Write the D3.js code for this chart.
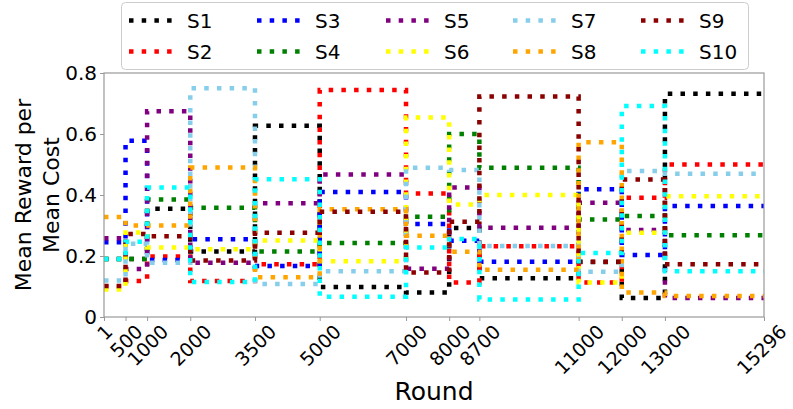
<!DOCTYPE html>
<html>
<head>
<meta charset="utf-8">
<script src="https://cdn.jsdelivr.net/npm/d3@7"></script>
<style>
  body { margin: 0; background: #fff; }
  svg { font-family: "DejaVu Sans", sans-serif; }
</style>
</head>
<body>
<div id="app"></div>
<script>
// Segment boundaries (rounds) and tick labels
const rounds = [1, 500, 1000, 2000, 3500, 5000, 7000, 8000, 8700, 11000, 12000, 13000, 15296];
const yTicks = [0, 0.2, 0.4, 0.6, 0.8];

// Mean reward per mean cost for each segment (12 segments)
const S1  = [0.19, 0.19, 0.355, 0.215, 0.627, 0.098, 0.08, 0.292, 0.127, 0.18, 0.062, 0.732];
const S2  = [0.10, 0.118, 0.198, 0.118, 0.173, 0.744, 0.405, 0.113, 0.232, 0.113, 0.391, 0.50];
const S3  = [0.245, 0.578, 0.187, 0.255, 0.167, 0.41, 0.305, 0.25, 0.181, 0.419, 0.203, 0.364];
const S4  = [0.19, 0.19, 0.385, 0.358, 0.215, 0.243, 0.329, 0.60, 0.489, 0.32, 0.331, 0.268];
const S5  = [0.258, 0.157, 0.675, 0.178, 0.373, 0.467, 0.158, 0.425, 0.293, 0.375, 0.285, 0.062];
const S6  = [0.09, 0.277, 0.228, 0.222, 0.251, 0.183, 0.654, 0.369, 0.40, 0.113, 0.276, 0.396];
const S7  = [0.12, 0.24, 0.178, 0.75, 0.108, 0.15, 0.489, 0.482, 0.233, 0.148, 0.479, 0.47];
const S8  = [0.328, 0.30, 0.30, 0.49, 0.13, 0.353, 0.266, 0.214, 0.155, 0.573, 0.08, 0.069];
const S9  = [0.102, 0.272, 0.265, 0.185, 0.276, 0.345, 0.146, 0.312, 0.723, 0.181, 0.451, 0.173];
const S10 = [0.19, 0.247, 0.425, 0.115, 0.452, 0.066, 0.228, 0.256, 0.057, 0.21, 0.692, 0.15];

const names  = ['S1', 'S2', 'S3', 'S4', 'S5', 'S6', 'S7', 'S8', 'S9', 'S10'];
const colors = ['black', 'red', 'blue', 'green', 'purple', 'yellow', 'skyblue', 'orange', 'darkred', 'cyan'];
const series = [S1, S2, S3, S4, S5, S6, S7, S8, S9, S10];

const W = 793, H = 409;
const margin = {top: 73, right: 29, bottom: 92, left: 104};
const width = W - margin.left - margin.right;
const height = H - margin.top - margin.bottom;

const svg = d3.select('#app').append('svg')
  .attr('width', W).attr('height', H);

const g = svg.append('g')
  .attr('transform', `translate(${margin.left},${margin.top})`);

const x = d3.scaleLinear().domain([1, 15296]).range([0, width]);
const y = d3.scaleLinear().domain([0, 0.8]).range([height, 0]);

// step lines: each value holds until the next boundary
const line = d3.line()
  .x(d => x(d[0]))
  .y(d => y(d[1]))
  .curve(d3.curveStepAfter);

series.forEach((vals, i) => {
  const pts = rounds.map((r, j) => [r, vals[Math.min(j, vals.length - 1)]]);
  g.append('path')
    .datum(pts)
    .attr('fill', 'none')
    .attr('stroke', colors[i])
    .attr('stroke-width', 4.5)
    .attr('stroke-dasharray', '4.5,8.2')
    .attr('d', line);
});

// frame
g.append('rect')
  .attr('width', width).attr('height', height)
  .attr('fill', 'none').attr('stroke', '#999').attr('stroke-width', 1.2);

// y axis
const yAxis = g.append('g')
  .call(d3.axisLeft(y).tickValues(yTicks).tickSize(4).tickFormat(d => d === 0 ? '0' : d3.format('.1f')(d)));
yAxis.select('.domain').remove();
yAxis.selectAll('line').attr('stroke', '#999');
yAxis.selectAll('text').attr('font-size', 20).attr('fill', '#000').attr('font-family', '"DejaVu Sans", sans-serif');

// x axis, labels rotated 45deg and centred under the tick
const fs = 19;
const xAxis = g.append('g')
  .attr('transform', `translate(0,${height})`)
  .call(d3.axisBottom(x).tickValues(rounds).tickSize(4).tickFormat(d => d));
xAxis.select('.domain').remove();
xAxis.selectAll('line').attr('stroke', '#999');
xAxis.selectAll('text')
  .attr('font-size', fs)
  .attr('fill', '#000')
  .attr('font-family', '"DejaVu Sans", sans-serif')
  .attr('text-anchor', 'middle')
  .attr('dominant-baseline', 'central')
  .attr('dy', null)
  .attr('y', 0)
  .attr('transform', function(d, i, nodes) {
    const L = this.getComputedTextLength();
    const c = (L + fs * 0.75) * 0.7071 / 2;
    const shift = i === nodes.length - 1 ? -3 : 0; // keep last label inside the page
    return `translate(${shift},${6 + c}) rotate(-45)`;
  });

// axis labels
svg.append('text')
  .attr('x', margin.left + width / 2)
  .attr('y', 400)
  .attr('text-anchor', 'middle')
  .attr('font-size', 25)
  .text('Round');

const yl = svg.append('text')
  .attr('transform', `translate(31,${margin.top + height / 2}) rotate(-90)`)
  .attr('text-anchor', 'middle')
  .attr('font-size', 22);
yl.append('tspan').attr('x', 0).attr('dy', 0).text('Mean Reward per');
yl.append('tspan').attr('x', 0).attr('dy', 28).text('Mean Cost');

// legend
const leg = svg.append('g');
leg.append('rect')
  .attr('x', 121.5).attr('y', 2.5)
  .attr('width', 627).attr('height', 67)
  .attr('rx', 4)
  .attr('fill', '#fff').attr('stroke', '#ccc').attr('stroke-width', 1);

const colX = [129, 257, 386, 513, 641];
const rowY = [20.5, 51.5];
names.forEach((n, i) => {
  const cx = colX[Math.floor(i / 2)];
  const cy = rowY[i % 2];
  leg.append('line')
    .attr('x1', cx).attr('x2', cx + 44)
    .attr('y1', cy).attr('y2', cy)
    .attr('stroke', colors[i])
    .attr('stroke-width', 4.5)
    .attr('stroke-dasharray', '4.5,8.2');
  leg.append('text')
    .attr('x', cx + 58).attr('y', cy + 7)
    .attr('font-size', 20)
    .text(n);
});
</script>
</body>
</html>
